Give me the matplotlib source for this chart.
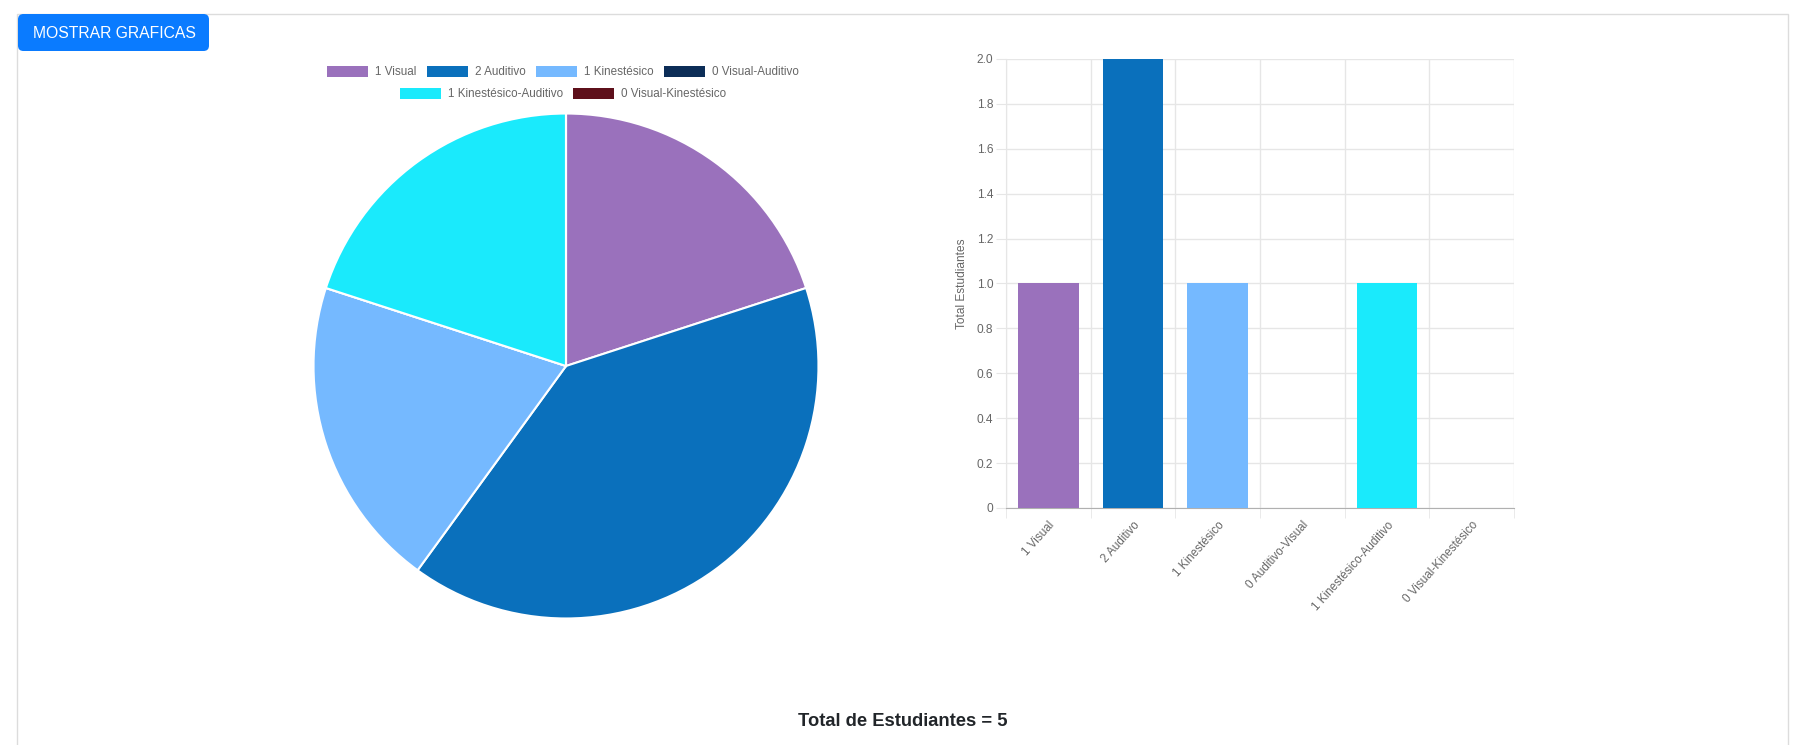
import matplotlib
matplotlib.use("Agg")
import matplotlib.pyplot as plt
from matplotlib.patches import Patch, FancyBboxPatch, Rectangle
import numpy as np

plt.rcParams['font.family'] = ['Liberation Sans', 'DejaVu Sans']

# ---- data ----
pie_labels = ["1 Visual", "2 Auditivo", "1 Kinestésico", "0 Visual-Auditivo",
              "1 Kinestésico-Auditivo", "0 Visual-Kinestésico"]
bar_labels = ["1 Visual", "2 Auditivo", "1 Kinestésico", "0 Auditivo-Visual",
              "1 Kinestésico-Auditivo", "0 Visual-Kinestésico"]
values = [1, 2, 1, 0, 1, 0]
colors = ["#9a71bc", "#0a70bc", "#75b9ff", "#0c2d57", "#1aeafc", "#5e101b"]
y_ticks = [0, 0.2, 0.4, 0.6, 0.8, 1.0, 1.2, 1.4, 1.6, 1.8, 2.0]
y_tick_labels = ["0", "0.2", "0.4", "0.6", "0.8", "1.0", "1.2", "1.4", "1.6", "1.8", "2.0"]
total_text = "Total de Estudiantes = 5"
button_text = "MOSTRAR GRAFICAS"
y_label = "Total Estudiantes"

W, H = 1804, 745
fig = plt.figure(figsize=(W / 100, H / 100), dpi=100)
fig.patch.set_facecolor("white")

def fx(x): return x / W
def fy(y): return 1 - y / H

# card border
card = Rectangle((fx(17), fy(760)), fx(1788) - fx(17), fy(14) - fy(760),
                 transform=fig.transFigure, fill=False, edgecolor="#dcdcdc", linewidth=1.0)
fig.patches.append(card)

# button
btn = FancyBboxPatch((fx(18), fy(51)), fx(209) - fx(18), fy(14) - fy(51),
                     boxstyle="round,pad=0,rounding_size=0.003",
                     transform=fig.transFigure, facecolor="#0a7bff", edgecolor="none",
                     mutation_aspect=W / H)
fig.patches.append(btn)
fig.text(fx(114), fy(33), button_text, color="white", fontsize=11.3,
         ha="center", va="center")

# ---- pie ----
cx, cy, r = 566, 366, 255
axp = fig.add_axes([fx(cx - r), fy(cy + r), (2 * r) / W, (2 * r) / H])
axp.pie(values, colors=colors, startangle=90, counterclock=False, radius=1,
        wedgeprops=dict(edgecolor="white", linewidth=1.5))
axp.set_xlim(-1.01, 1.01)
axp.set_ylim(-1.01, 1.01)
axp.set_aspect("auto")
axp.axis("off")

handles = [Patch(facecolor=c, edgecolor="none") for c in colors]
leg_kw = dict(frameon=False, fontsize=8.4, handlelength=3.5, handleheight=1.05,
              handletextpad=0.6, columnspacing=0.9, labelcolor="#666666",
              borderpad=0, borderaxespad=0)
leg1 = fig.legend(handles[:4], pie_labels[:4], ncol=4, loc="center",
                  bbox_to_anchor=(fx(563), fy(72)), **leg_kw)
leg2 = fig.legend(handles[4:], pie_labels[4:], ncol=2, loc="center",
                  bbox_to_anchor=(fx(563), fy(94)), **leg_kw)

# ---- bar ----
left, right, top, bottom = 1006, 1514, 59, 508
axb = fig.add_axes([fx(left), fy(bottom), (right - left) / W, (bottom - top) / H])
x = np.arange(len(values))
axb.bar(x, values, width=0.72, color=colors, zorder=3)
axb.set_xlim(-0.5, len(values) - 0.5)
axb.set_ylim(0, 2.0)
axb.set_yticks(y_ticks)
axb.set_yticklabels(y_tick_labels)
axb.set_xticks(x)
axb.set_xticklabels(bar_labels, rotation=48, ha="right", va="top",
                    rotation_mode="anchor")
axb.set_xticks(np.arange(-0.5, len(values), 1), minor=True)
grid_c = "#e6e6e6"
axb.grid(axis="y", which="major", color=grid_c, linewidth=1, zorder=0)
axb.grid(axis="x", which="minor", color=grid_c, linewidth=1, zorder=0)
axb.tick_params(axis="x", which="major", length=0, pad=8, labelsize=8.4, labelcolor="#666666")
axb.tick_params(axis="x", which="minor", length=7.2, color=grid_c)
axb.tick_params(axis="y", length=7.2, color=grid_c, pad=2, labelsize=8.6, labelcolor="#666666")
for s in ["top", "right"]:
    axb.spines[s].set_visible(False)
axb.spines["left"].set_color(grid_c)
axb.spines["bottom"].set_color("#b0b0b0")
axb.set_ylabel(y_label, fontsize=8.6, color="#666666", labelpad=6)

fig.text(fx(903), fy(721), total_text, fontsize=13.2, fontweight="bold",
         color="#212529", ha="center", va="center")

fig.savefig("out.png", dpi=100, facecolor="white")
